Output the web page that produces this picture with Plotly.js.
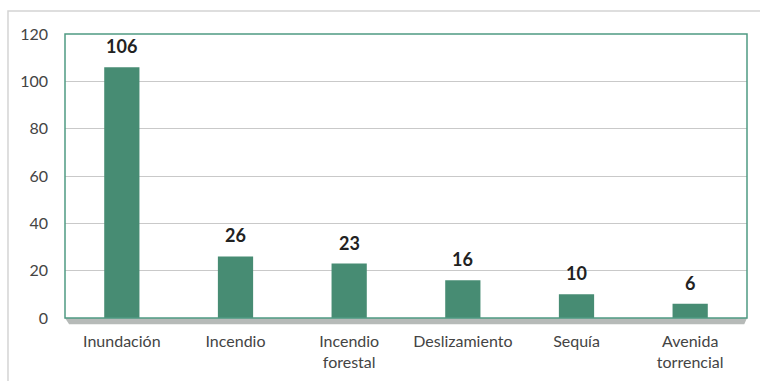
<!DOCTYPE html>
<html><head><meta charset="utf-8">
<script src="https://cdn.plot.ly/plotly-3.0.1.min.js"></script>
<style>html,body{margin:0;padding:0;background:#fff}#chart{width:760px;height:381px}</style>
</head><body><div id="chart"></div>
<script>
const categories = ["Inundación", "Incendio", "Incendio<br>forestal", "Deslizamiento", "Sequía", "Avenida<br>torrencial"];
const values = [106, 26, 23, 16, 10, 6];
const yTicks = [0, 20, 40, 60, 80, 100, 120];

const trace = {
  type: 'bar', x: categories, y: values,
  marker: {color: '#478c73'},
  hoverinfo: 'none'
};
const annotations = categories.map((c, i) => ({
  x: c, y: values[i], xref: 'x', yref: 'y', text: String(values[i]),
  showarrow: false, yanchor: 'bottom', yshift: 8,
  font: {family: 'Lato, sans-serif', size: 18, color: '#222', weight: 'bold'}
}));
const layout = {
  width: 760, height: 381,
  margin: {l: 65, r: 13, t: 34, b: 63},
  paper_bgcolor: '#fff', plot_bgcolor: '#fff',
  bargap: 0.69,
  showlegend: false,
  font: {family: 'Lato, sans-serif', color: '#444', size: 16},
  xaxis: {
    type: 'category', showgrid: false, zeroline: false, showline: false,
    ticks: '', ticklabelstandoff: 12, tickfont: {size: 16, color: '#444'}
  },
  yaxis: {
    range: [0, 120], tickvals: yTicks, showgrid: true, gridcolor: '#c9c9c9', gridwidth: 1,
    zeroline: false, showline: false, ticks: '', ticklabelstandoff: 16,
    tickfont: {size: 16, color: '#444'}
  },
  shapes: [
    {type: 'rect', xref: 'paper', yref: 'paper', x0: -0.0836, x1: 1.03, y0: -0.25, y1: 1.081,
     line: {color: '#d4d4d4', width: 1.5}, layer: 'below'},
    {type: 'path', xref: 'paper', yref: 'paper',
     path: 'M 0 0 L 1 0 L 0.996 -0.022 L 0.006 -0.022 Z',
     fillcolor: '#b6bab8', line: {width: 0}, layer: 'below'},
    {type: 'rect', xref: 'paper', yref: 'paper', x0: 0, x1: 1, y0: 0, y1: 1,
     line: {color: '#4f9a82', width: 1.5}, layer: 'above'}
  ],
  annotations: annotations
};
Plotly.newPlot('chart', [trace], layout, {displayModeBar: false, staticPlot: true});
</script></body></html>
